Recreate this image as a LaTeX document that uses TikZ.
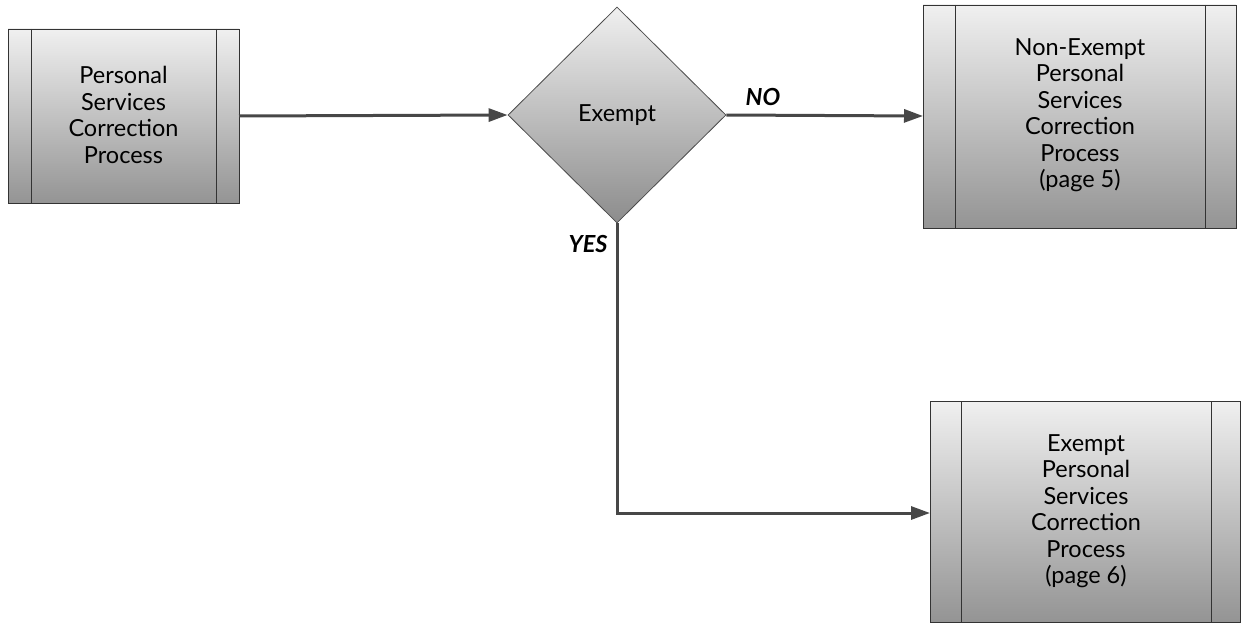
\documentclass[tikz,border=0pt]{standalone}
\usepackage{fontspec}
\setmainfont{Lato}
\usetikzlibrary{arrows.meta,shapes.geometric}
\begin{document}
\begin{tikzpicture}[x=1pt,y=-1pt,
  procbox/.style={draw=black!80,line width=0.8pt,top color=black!6,bottom color=black!42},
  txt/.style={align=center,font=\fontsize{23.5}{26.5}\selectfont,text=black},
  conn/.style={draw=black!72,line width=3pt,-{Triangle[length=19pt,width=13pt]}},
  lbl/.style={font=\fontsize{23.5}{26}\selectfont\bfseries\itshape,text=black}]
\useasboundingbox (0,0) rectangle (1241,623);
% Box 1
\draw[procbox] (8,29) rectangle (239,203);
\draw[black!80,line width=0.8pt] (31,29) -- (31,203) (216,29) -- (216,203);
\node[txt] (p1) at (123.5,115) {Personal\\Services\\Correction\\Process};
\coordinate (p1r) at (239,116);
% Diamond
\node[diamond,draw=black!70,line width=0.8pt,top color=black!6,bottom color=black!45,
  minimum width=218pt,minimum height=216pt,inner sep=0pt] (d) at (617,115) {};
\node[txt] (dt) at (617,115) {Exempt};
% Box NO
\draw[procbox] (923,5) rectangle (1236,228);
\draw[black!80,line width=0.8pt] (955,5) -- (955,228) (1205,5) -- (1205,228);
\node[txt] (p2) at (1080,115) {Non-Exempt\\Personal\\Services\\Correction\\Process\\(page 5)};
\coordinate (p2l) at (923,116);
% Box YES
\draw[procbox] (930,401) rectangle (1240,622);
\draw[black!80,line width=0.8pt] (961,401) -- (961,622) (1211,401) -- (1211,622);
\node[txt] (p3) at (1086,511) {Exempt\\Personal\\Services\\Correction\\Process\\(page 6)};
\coordinate (p3l) at (930,513);
% connectors
\draw[conn] (p1r) -- (d.west);
\draw[conn] (d.east) -- (p2l);
\draw[conn] (d.south) |- (p3l);
\node[lbl] (no) at (763,97) {NO};
\node[lbl] (yes) at (588,244) {YES};
\end{tikzpicture}
\end{document}
